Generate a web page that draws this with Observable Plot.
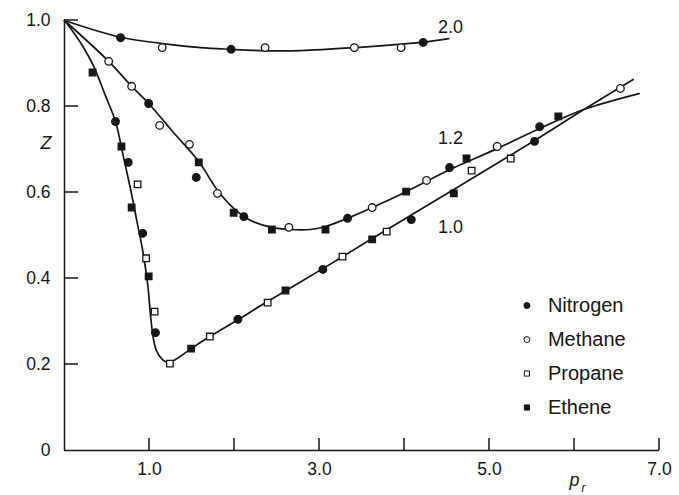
<!DOCTYPE html>
<html><head><meta charset="utf-8">
<script src="https://cdn.jsdelivr.net/npm/d3@7"></script>
<script src="https://cdn.jsdelivr.net/npm/@observablehq/plot@0.6"></script>
<style>
body{margin:0;background:#fff}
#chart svg{display:block}
</style>
</head><body><div id="chart"></div>
<script>
// Axis ticks
const xTicks = [1, 2, 3, 4, 5, 6, 7];
const xTickLabels = ["1.0", "", "3.0", "", "5.0", "", "7.0"];
const yTicks = [0, 0.2, 0.4, 0.6, 0.8, 1.0];
const yTickLabels = ["0", "0.2", "0.4", "0.6", "0.8", "1.0"];

// Curves (reduced temperature)
const curveNames = ["2.0", "1.2", "1.0"];
const curve20P = [0, 0.66, 1.13, 1.6, 1.95, 2.31, 2.78, 3.42, 4.19, 4.52];
const curve20Z = [1.0, 0.961, 0.947, 0.937, 0.933, 0.930, 0.930, 0.937, 0.949, 0.958];
const curve12P = [0, 0.52, 0.79, 0.99, 1.28, 1.58, 1.80, 1.99, 2.19, 2.44, 2.66, 2.89, 3.07, 3.33, 3.62, 4.02, 4.53, 5.09, 5.59, 6.11, 6.76];
const curve12Z = [1.0, 0.905, 0.847, 0.807, 0.740, 0.672, 0.605, 0.563, 0.535, 0.519, 0.514, 0.514, 0.521, 0.540, 0.565, 0.602, 0.653, 0.702, 0.749, 0.793, 0.830];
const curve10P = [0, 0.09, 0.21, 0.34, 0.48, 0.60, 0.69, 0.78, 0.85, 0.92, 0.98, 1.01, 1.04, 1.08, 1.15, 1.21, 1.31, 1.49, 1.71, 2.05, 2.31, 3.04, 3.62, 4.58, 5.53, 6.11, 6.69];
const curve10Z = [1.0, 0.977, 0.942, 0.895, 0.826, 0.765, 0.686, 0.605, 0.535, 0.465, 0.384, 0.319, 0.267, 0.233, 0.212, 0.205, 0.212, 0.237, 0.265, 0.305, 0.337, 0.423, 0.493, 0.607, 0.721, 0.793, 0.863];

// Measured points
const nitrogenP = [0.66, 1.96, 4.22, 0.99, 1.55, 2.11, 3.33, 4.53, 5.59, 0.60, 0.75, 0.92, 1.07, 2.04, 3.04, 4.08, 5.53];
const nitrogenZ = [0.960, 0.933, 0.949, 0.807, 0.635, 0.544, 0.540, 0.658, 0.753, 0.765, 0.670, 0.505, 0.274, 0.305, 0.421, 0.537, 0.719];
const methaneP = [1.15, 2.36, 3.41, 3.96, 0.52, 0.79, 1.12, 1.47, 1.80, 2.64, 3.62, 4.26, 5.09, 6.54];
const methaneZ = [0.937, 0.937, 0.937, 0.937, 0.905, 0.847, 0.756, 0.712, 0.598, 0.519, 0.565, 0.628, 0.707, 0.842];
const propaneP = [0.86, 0.96, 1.06, 1.24, 1.71, 2.39, 3.27, 3.79, 4.79, 5.25];
const propaneZ = [0.619, 0.447, 0.323, 0.202, 0.265, 0.344, 0.451, 0.509, 0.651, 0.679];
const etheneP = [0.33, 0.67, 0.79, 0.99, 1.49, 2.60, 3.62, 4.58, 1.58, 1.99, 2.44, 3.07, 4.02, 4.73, 5.81];
const etheneZ = [0.879, 0.707, 0.565, 0.405, 0.237, 0.372, 0.491, 0.598, 0.670, 0.553, 0.514, 0.514, 0.602, 0.679, 0.777];

const legendNames = ["Nitrogen", "Methane", "Propane", "Ethene"];

// ---- build tables ----
const ink = "#161616";
const zip = (P, Z) => P.map((p, i) => ({p, z: Z[i]}));
const curves = [
  {name: curveNames[0], pts: zip(curve20P, curve20Z)},
  {name: curveNames[1], pts: zip(curve12P, curve12Z)},
  {name: curveNames[2], pts: zip(curve10P, curve10Z)}
];
const gases = [
  {name: legendNames[0], pts: zip(nitrogenP, nitrogenZ), symbol: "circle", fill: ink, r: 3.8, lr: 3},
  {name: legendNames[1], pts: zip(methaneP, methaneZ), symbol: "circle", fill: "white", r: 3.8, lr: 3},
  {name: legendNames[2], pts: zip(propaneP, propaneZ), symbol: "square", fill: "white", r: 3.7, lr: 2.9},
  {name: legendNames[3], pts: zip(etheneP, etheneZ), symbol: "square", fill: ink, r: 3.7, lr: 2.9}
];
// layout of annotations (not data)
const curveLabelPos = [[4.54, 0.984], [4.54, 0.726], [4.54, 0.519]];
const legendX = 5.44, legendTop = 0.337, legendStep = 0.079;

const marks = [];
// axis lines
marks.push(Plot.ruleY([0], {stroke: ink, strokeWidth: 1.5}));
marks.push(Plot.ruleX([0], {stroke: ink, strokeWidth: 1.5}));
// tick labels
marks.push(Plot.axisX(xTicks, {label: null, tickSize: 0, tickPadding: 12, tickFormat: d => xTickLabels[xTicks.indexOf(d)], fill: ink}));
marks.push(Plot.axisY(yTicks, {label: null, tickSize: 0, tickPadding: 14, tickFormat: d => yTickLabels[yTicks.indexOf(d)], fill: ink}));
// curves
for (const c of curves) {
  marks.push(Plot.line(c.pts, {x: "p", y: "z", curve: "catmull-rom", stroke: ink, strokeWidth: 1.7}));
}
// points
for (const g of gases) {
  marks.push(Plot.dot(g.pts, {x: "p", y: "z", symbol: g.symbol, r: g.r, fill: g.fill, stroke: ink, strokeWidth: 1.3}));
}
// curve labels
marks.push(Plot.text(curveNames, {x: (d, i) => curveLabelPos[i][0], y: (d, i) => curveLabelPos[i][1], text: d => d, fontSize: 18, fill: ink, textAnchor: "middle"}));
// legend
marks.push(Plot.dot(gases, {x: () => legendX, y: (d, i) => legendTop - i * legendStep, symbol: d => d.symbol, r: d => d.lr, fill: d => d.fill, stroke: ink, strokeWidth: 1}));
marks.push(Plot.text(gases, {x: () => legendX, y: (d, i) => legendTop - i * legendStep, text: d => d.name, dx: 21, textAnchor: "start", fontSize: 20, fill: ink}));
// axis titles
marks.push(Plot.text(["Z"], {frameAnchor: "left", y: () => 0.714, dx: -24, text: d => d, fontSize: 18, fontStyle: "italic", fill: ink}));
marks.push(Plot.text(["p"], {frameAnchor: "bottom", x: () => 6.0, dy: 35, text: d => d, fontSize: 18, fontStyle: "italic", fill: ink}));
marks.push(Plot.text(["r"], {frameAnchor: "bottom", x: () => 6.0, dx: 9, dy: 41, text: d => d, fontSize: 12, fontStyle: "italic", fill: ink}));

const chart = Plot.plot({
  width: 679,
  height: 495,
  marginLeft: 64,
  marginRight: 20,
  marginTop: 20,
  marginBottom: 45,
  x: {domain: [0, 7], axis: null},
  y: {domain: [0, 1], axis: null},
  r: {type: "identity"},
  symbol: {type: "identity"},
  style: {fontFamily: "'Liberation Sans', Arial, sans-serif", fontSize: "17.5px", background: "white", color: ink, overflow: "visible"},
  marks
});
document.getElementById("chart").appendChild(chart);

// inward tick marks, placed through the chart's own scales
const sx = chart.scale("x"), sy = chart.scale("y");
const g = d3.select(chart).append("g").attr("stroke", ink).attr("stroke-width", 1.5).attr("fill", "none");
const x0 = sx.apply(0), y0 = sy.apply(0);
g.selectAll("line.xt").data(xTicks).join("line").attr("class", "xt")
  .attr("x1", d => sx.apply(d)).attr("x2", d => sx.apply(d))
  .attr("y1", y0).attr("y2", y0 - 12);
g.selectAll("line.yt").data(yTicks.filter(d => d > 0)).join("line").attr("class", "yt")
  .attr("y1", d => sy.apply(d)).attr("y2", d => sy.apply(d))
  .attr("x1", x0).attr("x2", x0 + 14);
</script>
</body></html>
